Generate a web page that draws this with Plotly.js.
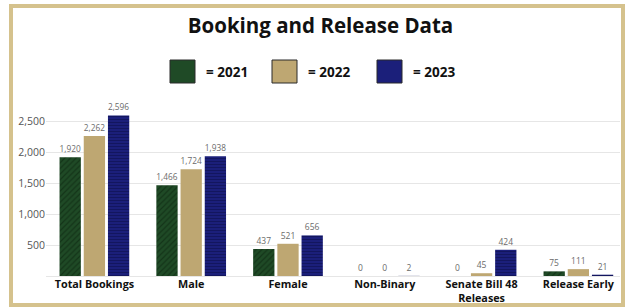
<!DOCTYPE html>
<html>
<head>
<meta charset="utf-8">
<script src="https://cdn.plot.ly/plotly-3.0.1.min.js"></script>
<style>
  html, body { margin:0; padding:0; background:#fff; }
  #wrap { position:relative; width:626px; height:307px; overflow:hidden; }
  #chart { position:absolute; left:0; top:0; width:626px; height:307px; }
  #frame { position:absolute; left:9px; top:4px; width:616px; height:303px; box-sizing:border-box;
           border:4px solid #d5c28d; pointer-events:none; }
</style>
</head>
<body>
<div id="wrap">
  <div id="chart"></div>
  <div id="frame"></div>
</div>
<script>
// ---- data ----
const categories = ["Total Bookings", "Male", "Female", "Non-Binary", "Senate Bill 48<br>Releases", "Release Early"];
const seriesNames = ["2021", "2022", "2023"];
const values2021 = [1920, 1466, 437, 0, 0, 75];
const values2022 = [2262, 1724, 521, 0, 45, 111];
const values2023 = [2596, 1938, 656, 2, 424, 21];
const yTicks = [500, 1000, 1500, 2000, 2500];

// ---- styles ----
const W = 626, H = 307;
const M = {l: 46, r: 6, t: 109, b: 31};
const colors = ["#1f4a26", "#bea772", "#1b1f7a"];
const patterns = [
  {shape: "/", bgcolor: "#1f4a26", fgcolor: "#143519", size: 4, solidity: 0.3},
  {shape: ""},
  {shape: "-", bgcolor: "#1b1f7a", fgcolor: "#12155c", size: 3, solidity: 0.3}
];
const seriesValues = [values2021, values2022, values2023];
const fmt = v => v.toLocaleString("en-US");

const traces = seriesNames.map((name, i) => ({
  type: "bar",
  name: name,
  x: categories,
  y: seriesValues[i],
  text: seriesValues[i].map(fmt),
  textposition: "outside",
  cliponaxis: false,
  textfont: {family: "Open Sans", size: 8.5, color: "#6b6b6b"},
  marker: {color: colors[i], pattern: patterns[i], line: {width: 0}},
  hoverinfo: "x+y"
}));

// helpers to convert pixel positions into paper coords
const pw = W - M.l - M.r, ph = H - M.t - M.b;
const px = x => (x - M.l) / pw;
const py = y => (H - M.b - y) / ph;

const legendX = [170, 272, 377];
const shapes = [], annotations = [];
seriesNames.forEach((name, i) => {
  shapes.push({
    type: "rect", xref: "paper", yref: "paper",
    x0: px(legendX[i]), x1: px(legendX[i] + 25),
    y0: py(83), y1: py(60),
    fillcolor: colors[i], line: {color: "#2a2a2a", width: 1}
  });
  annotations.push({
    xref: "paper", yref: "paper",
    x: px(legendX[i] + 34), y: py(72),
    xanchor: "left", yanchor: "middle",
    text: "= " + name, showarrow: false,
    font: {family: "Open Sans", size: 13.5, color: "#111", weight: 700}
  });
});

const layout = {
  width: W, height: H,
  margin: M,
  paper_bgcolor: "#fff", plot_bgcolor: "#fff",
  showlegend: false,
  barmode: "group",
  bargap: 0.25,
  bargroupgap: 0.12,
  title: {
    text: "<b>Booking and Release Data</b>",
    xref: "container", yref: "container",
    x: 0.512, y: 1 - 26 / H, xanchor: "center", yanchor: "middle",
    font: {family: "Open Sans", size: 20.5, color: "#111"}
  },
  xaxis: {
    range: [-0.5, 5.43],
    showgrid: false, zeroline: false, showline: false,
    ticks: "",
    tickfont: {family: "Open Sans", size: 10.8, color: "#111", weight: 700},
    fixedrange: true
  },
  yaxis: {
    range: [0, 2700],
    tickvals: yTicks,
    ticktext: yTicks.map(fmt),
    showgrid: true, gridcolor: "#e6e6e6", gridwidth: 1,
    zeroline: true, zerolinecolor: "#e6e6e6", zerolinewidth: 1,
    showline: false, ticks: "",
    tickfont: {family: "Open Sans", size: 10.5, color: "#555"},
    fixedrange: true
  },
  shapes: shapes,
  annotations: annotations,
  font: {family: "Open Sans"}
};

Plotly.newPlot("chart", traces, layout, {displayModeBar: false, staticPlot: true});
</script>
</body>
</html>
